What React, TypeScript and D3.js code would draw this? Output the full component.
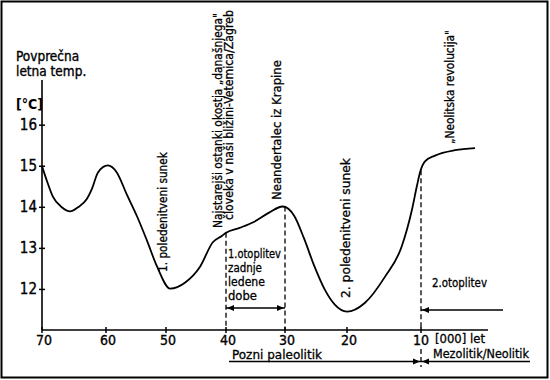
import React, { useLayoutEffect, useRef, useState } from "react";
import * as d3 from "d3";

// ---- data ----
const ageTicks = [70, 60, 50, 40, 30, 20, 10];
const ageTickPx = [42, 106, 166, 226, 285, 347, 421]; // hand-drawn, uneven spacing
const tempTicks = [12, 13, 14, 15, 16];

const ages = [70, 69.2, 68.3, 66.9, 65.6, 64.4, 63.0, 62.2, 61.25, 59.7, 58.2, 56.5, 54.8, 53.2, 51.5, 49.3, 46.8, 44.3, 42.2, 40.7, 40, 37.7, 35.2, 32.7, 30.4, 28.5, 26.9, 25.25, 23.6, 21.97, 20, 17.6, 14.9, 12.6, 11.2, 10.54, 10.1, 9.46, 8.1, 5.4, 2.7];
const temps = [15.0, 14.63, 14.26, 14.0, 13.9, 14.0, 14.2, 14.45, 14.85, 15.02, 14.85, 14.3, 13.77, 13.2, 12.56, 12.02, 12.17, 12.56, 13.15, 13.3, 13.38, 13.5, 13.65, 13.87, 14.02, 13.79, 13.23, 12.56, 12.0, 11.63, 11.46, 11.67, 12.3, 13.05, 13.96, 14.53, 14.87, 15.12, 15.26, 15.39, 15.44];

const markerAges = [40, 30, 10];
const markerTop = [13.38, 14.02, 14.9];

const yTitle = ["Povprečna", "letna temp."];
const yUnit = "[°C]";
const xUnit = "[000] let";
const periodLeft = "Pozni  paleolitik";
const periodRight = "Mezolitik/Neolitik";
const warm1 = ["1.otoplitev", "zadnje", "ledene", "dobe"];
const warm1Len = [53, 34, 37, 29];
const warm2 = "2.otoplitev";
const vertLabels = [
  { text: "1. poledenitveni sunek", x: 167, y: 272, len: 120 },
  { text: "Najstarejši ostanki okostja „današnjega\"", x: 222, y: 228, len: 215 },
  { text: "človeka v naši bližini-Vetemica/Zagreb", x: 233, y: 220, len: 210 },
  { text: "Neandertalec iz Krapine", x: 281, y: 200, len: 140 },
  { text: "2. poledenitveni sunek", x: 350, y: 298, len: 140 },
  { text: "„Neolitska revolucija\"", x: 454, y: 144, len: 114 },
];

const FONT = "'DejaVu Sans Condensed', 'DejaVu Sans', sans-serif";

type FitProps = {
  x: number;
  y: number;
  len: number;
  fontSize: number;
  rotate?: number;
  children: string;
};

function FitText({ x, y, len, fontSize, rotate = 0, children }: FitProps) {
  const ref = useRef<SVGTextElement>(null);
  const [sx, setSx] = useState(1);
  useLayoutEffect(() => {
    if (ref.current) {
      const natural = ref.current.getComputedTextLength();
      if (natural > 0) setSx(len / natural);
    }
  }, [len, children, fontSize]);
  return (
    <text
      ref={ref}
      transform={`translate(${x},${y}) rotate(${rotate}) scale(${sx},1)`}
      fontSize={fontSize}
      stroke="#000"
      strokeWidth={0.3}
    >
      {children}
    </text>
  );
}

export default function App() {
  const x = d3.scaleLinear().domain(ageTicks).range(ageTickPx);
  const y = d3.scaleLinear().domain([11, 17.1]).range([330.5, 80]);
  const axisY = 330;

  const line = d3
    .line<number>()
    .x((_, i) => x(ages[i]))
    .y((d) => y(d))
    .curve(d3.curveMonotoneX);

  const arrowL = (px: number, py: number) => `M${px},${py} l7,-3 l0,6 Z`;
  const arrowR = (px: number, py: number) => `M${px},${py} l-7,-3 l0,6 Z`;

  const a1y = 308;
  const a2y = 310;
  const bottomY = 361.5;
  const txt = { stroke: "#000", strokeWidth: 0.35 } as const;

  return (
    <svg
      width={550}
      height={380}
      style={{ position: "absolute", left: 0, top: 0, background: "#fff" }}
      fontFamily={FONT}
    >
      <rect x={0} y={0} width={550} height={380} fill="#fff" />
      <rect x={1.5} y={1.5} width={546} height={376} fill="none" stroke="#000" strokeWidth={2} />

      {/* y axis */}
      <line x1={x(70)} x2={x(70)} y1={y(17.1)} y2={axisY} stroke="#000" strokeWidth={1.6} />
      {tempTicks.map((t) => (
        <g key={t}>
          <line x1={x(70) - 3} x2={x(70) + 3} y1={y(t)} y2={y(t)} stroke="#000" strokeWidth={1.5} />
          <text x={x(70) - 5} y={y(t) + 5} textAnchor="end" fontSize={15} {...txt}>
            {t}
          </text>
        </g>
      ))}
      {yTitle.map((s, i) => (
        <text key={s} x={16} y={61 + i * 15} fontSize={13.5} {...txt}>
          {s}
        </text>
      ))}
      <text x={16} y={109} fontSize={14} fontWeight="bold">
        {yUnit}
      </text>

      {/* x axis */}
      <line x1={x(70)} x2={488} y1={axisY} y2={axisY} stroke="#000" strokeWidth={1.6} />
      {ageTicks.map((a) => (
        <g key={a}>
          <line x1={x(a)} x2={x(a)} y1={axisY - 3} y2={axisY + 3} stroke="#000" strokeWidth={1.5} />
          <text x={x(a) + (a === 10 ? 0 : 2)} y={344.5} textAnchor="middle" fontSize={14} {...txt}>
            {a}
          </text>
        </g>
      ))}
      <FitText x={435} y={343} len={50} fontSize={13}>
        {xUnit}
      </FitText>

      {/* period line */}
      <FitText x={232} y={358.5} len={90} fontSize={13}>
        {periodLeft}
      </FitText>
      <FitText x={433} y={358} len={96} fontSize={13}>
        {periodRight}
      </FitText>
      <line x1={229} x2={530} y1={bottomY} y2={bottomY} stroke="#000" strokeWidth={1.5} />
      <path d={arrowR(x(10) - 1, bottomY)} fill="#000" />
      <path d={arrowL(x(10) + 1, bottomY)} fill="#000" />

      {/* dashed markers */}
      {markerAges.map((a, i) => (
        <line
          key={a}
          x1={x(a)}
          x2={x(a)}
          y1={y(markerTop[i])}
          y2={axisY}
          stroke="#000"
          strokeWidth={1.3}
          strokeDasharray="5,3"
        />
      ))}
      <line x1={x(10)} x2={x(10)} y1={349} y2={367} stroke="#000" strokeWidth={1.3} strokeDasharray="5,3" />

      {/* 1. otoplitev arrow */}
      <line x1={x(40)} x2={x(30)} y1={a1y} y2={a1y} stroke="#000" strokeWidth={1.3} />
      <path d={arrowL(x(40) + 1, a1y)} fill="#000" />
      <path d={arrowR(x(30) - 1, a1y)} fill="#000" />
      {warm1.map((s, i) => (
        <FitText key={s} x={228} y={[257.5, 271.5, 285.5, 299.5][i]} len={warm1Len[i]} fontSize={12.5}>
          {s}
        </FitText>
      ))}

      {/* 2. otoplitev arrow */}
      <line x1={x(10)} x2={503} y1={a2y} y2={a2y} stroke="#000" strokeWidth={1.3} />
      <path d={arrowL(x(10) + 1, a2y)} fill="#000" />
      <FitText x={432} y={287} len={55} fontSize={13}>
        {warm2}
      </FitText>

      {/* curve */}
      <path d={line(temps) || ""} fill="none" stroke="#000" strokeWidth={1.8} />

      {/* vertical labels */}
      {vertLabels.map((v) => (
        <FitText key={v.text} x={v.x} y={v.y} len={v.len} fontSize={13} rotate={-90}>
          {v.text}
        </FitText>
      ))}
    </svg>
  );
}
